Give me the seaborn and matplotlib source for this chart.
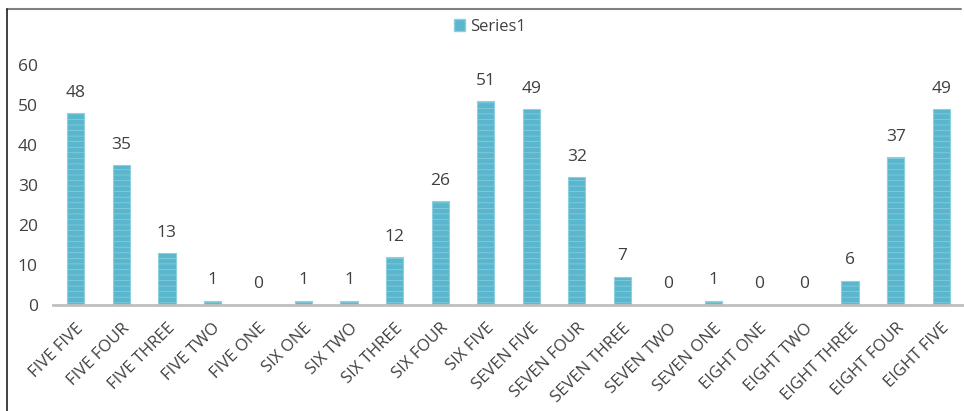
import matplotlib
matplotlib.use("Agg")
import matplotlib.pyplot as plt
import seaborn as sns
import pandas as pd
from matplotlib.lines import Line2D
from matplotlib.patches import Patch

categories = ["FIVE FIVE", "FIVE FOUR", "FIVE THREE", "FIVE TWO", "FIVE ONE",
              "SIX ONE", "SIX TWO", "SIX THREE", "SIX FOUR", "SIX FIVE",
              "SEVEN FIVE", "SEVEN FOUR", "SEVEN THREE", "SEVEN TWO", "SEVEN ONE",
              "EIGHT ONE", "EIGHT TWO", "EIGHT THREE", "EIGHT FOUR", "EIGHT FIVE"]
values = [48, 35, 13, 1, 0, 1, 1, 12, 26, 51, 49, 32, 7, 0, 1, 0, 0, 6, 37, 49]
yticks = [0, 10, 20, 30, 40, 50, 60]
series_name = "Series1"

sns.set_theme(style="white")
plt.rcParams['font.family'] = ['Open Sans', 'DejaVu Sans']
plt.rcParams['hatch.color'] = '#7fc8da'
plt.rcParams['hatch.linewidth'] = 0.5

df = pd.DataFrame({"cat": categories, "val": values})
fig = plt.figure(figsize=(9.64, 4.11), dpi=100)
ax = fig.add_axes([53/964, (411-305)/411, (964-53)/964, (305-65)/411])

bar_color = "#5ab6cc"
sns.barplot(data=df, x="cat", y="val", color=bar_color, width=0.38, ax=ax,
            saturation=1)
for p in ax.patches:
    p.set_edgecolor("#8ccfe0")
    p.set_linewidth(0.8)
    p.set_hatch("---")

ax.set_xlim(-0.5, len(categories) - 0.5)
ax.set_ylim(0, 60)
ax.set_yticks(yticks)
ax.set_yticklabels([str(t) for t in yticks], fontsize=12.5, color="#404040")
ax.set_xticks(range(len(categories)))
ax.set_xticklabels(categories, rotation=45, ha="right", rotation_mode="anchor",
                   fontsize=12, color="#404040")
ax.tick_params(axis="x", length=0, pad=11)
ax.tick_params(axis="y", length=0, pad=11)
ax.set_xlabel("")
ax.set_ylabel("")
for s in ["top", "right", "left"]:
    ax.spines[s].set_visible(False)
ax.spines["bottom"].set_color("#bfbfbf")
ax.spines["bottom"].set_linewidth(2)

for i, v in enumerate(values):
    ax.annotate(str(v), (i, v), xytext=(0, 9), textcoords="offset points",
                ha="center", va="bottom", fontsize=12.5, color="#404040")

handle = Patch(facecolor=bar_color, edgecolor="#8ccfe0")
fig.legend([handle], [series_name], loc="center", bbox_to_anchor=(490/964, 1 - 27/411),
           frameon=False, fontsize=12, handlelength=0.7, handleheight=0.7,
           handletextpad=0.3, labelcolor="#404040")

fig.add_artist(Line2D([7/964, 961/964], [1 - 9/411, 1 - 9/411], color="#808080",
                      linewidth=1.5, transform=fig.transFigure))
fig.add_artist(Line2D([7/964, 7/964], [0, 1 - 9/411], color="#202020",
                      linewidth=1.2, transform=fig.transFigure))

fig.savefig("out.png", dpi=100)
